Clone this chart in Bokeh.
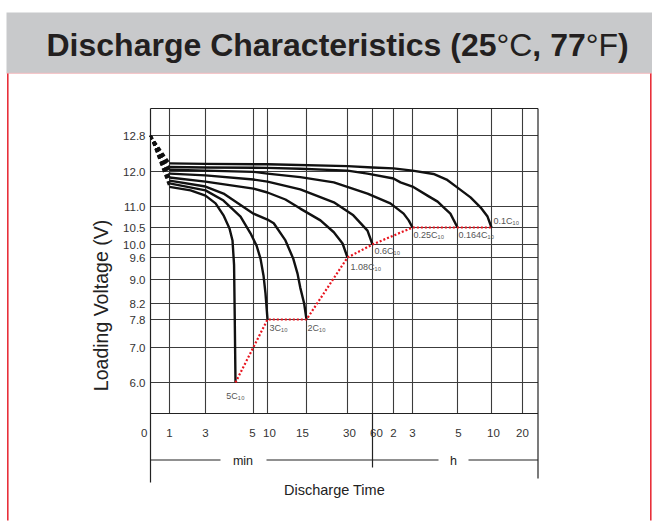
import numpy as np
from bokeh.plotting import figure
from bokeh.models import Range1d
from bokeh.core.properties import value
from bokeh.embed import file_html
from bokeh.resources import INLINE

# ---------------- texts ----------------
TITLE_PARTS = ["Discharge Characteristics (25", "°C", ", 77", "°F", ")"]
TITLE_BOLD = [True, False, True, False, True]
Y_LABEL = "Loading Voltage (V)"
X_LABEL = "Discharge Time"
UNIT_LABELS = ["min", "h"]

# ---------------- axes ----------------
X_TICK_LABELS = ["0", "1", "3", "5", "10", "15", "30", "60", "2", "3", "5", "10", "20"]
X_TICK_MINUTES = [0, 1, 3, 5, 10, 15, 30, 60, 120, 180, 300, 600, 1200]
Y_TICK_LABELS = ["12.8", "12.0", "11.0", "10.5", "10.0", "9.6", "9.0", "8.2", "7.8", "7.0", "6.0"]
Y_TICK_VOLTS = [12.8, 12.0, 11.0, 10.5, 10.0, 9.6, 9.0, 8.2, 7.8, 7.0, 6.0]

# ---------------- series (time in minutes, voltage in V) ----------------
RATE_LABELS = ["0.1C₁₀", "0.164C₁₀", "0.25C₁₀", "0.6C₁₀", "1.08C₁₀", "2C₁₀", "3C₁₀", "5C₁₀"]
INITIAL_VOLT = 12.8

t_01 = [1, 3, 10, 30, 60, 120, 180, 236, 271, 300, 415, 503, 565, 600]
v_01 = [12.18, 12.17, 12.16, 12.12, 12.09, 12.07, 12.02, 11.93, 11.77, 11.54, 11.26, 10.98, 10.76, 10.5]

t_0164 = [1, 3, 10, 14.2, 30, 54, 120, 142, 180, 220, 247, 263, 281, 300]
v_0164 = [12.10, 12.09, 12.08, 12.06, 12.02, 11.94, 11.80, 11.69, 11.57, 11.31, 11.14, 10.98, 10.83, 10.5]

t_025 = [1, 3, 5, 10, 14.2, 25, 54, 111, 152, 168, 180]
v_025 = [12.04, 12.02, 11.99, 11.94, 11.84, 11.69, 11.37, 11.09, 10.83, 10.67, 10.5]

t_06 = [1, 3, 5, 10, 14.2, 25, 37, 54, 60]
v_06 = [11.94, 11.89, 11.77, 11.71, 11.49, 11.12, 10.79, 10.41, 10.0]

t_108 = [1, 3, 5, 10, 12.3, 14.2, 20.1, 25, 28.2, 30]
v_108 = [11.83, 11.71, 11.51, 11.40, 11.20, 10.95, 10.67, 10.36, 10.03, 9.6]

t_2 = [1, 3, 3.75, 5, 10, 10.8, 12.3, 13.3, 13.85, 14.2, 14.7, 15]
v_2 = [11.74, 11.57, 11.37, 10.83, 10.69, 10.6, 10.12, 9.57, 9.16, 8.73, 8.2, 7.8]

t_3 = [1, 3, 3.75, 4.46, 4.875, 6.07, 7.5, 8.57, 9.29, 10]
v_3 = [11.66, 11.46, 11.17, 10.76, 10.33, 9.97, 9.57, 9.11, 8.53, 7.8]

t_5 = [1, 2.17, 3, 3.42, 3.75, 4.0, 4.125, 4.19, 4.22, 4.25]
v_5 = [11.56, 11.46, 11.31, 11.09, 10.79, 10.47, 10.12, 9.4, 7.77, 6.0]

CURVES_T = [t_01, t_0164, t_025, t_06, t_108, t_2, t_3, t_5]
CURVES_V = [v_01, v_0164, v_025, v_06, v_108, v_2, v_3, v_5]

END_MINUTES = [4.25, 10, 15, 30, 60, 180, 300, 600]
END_VOLTS = [6.0, 7.8, 7.8, 9.6, 10.0, 10.5, 10.5, 10.5]
END_LABELS = ["5C₁₀", "3C₁₀", "2C₁₀", "1.08C₁₀", "0.6C₁₀", "0.25C₁₀", "0.164C₁₀", "0.1C₁₀"]

# ---------------- layout (page pixels) ----------------
W, H = 652, 522
X_TICK_PX = [150, 169, 205, 253, 267, 306, 347, 372, 393, 412, 457, 491, 522]
X_RIGHT = 537.5
Y_TICK_PX = [135, 171, 206, 227, 244, 257, 279, 303, 319, 347, 382]
Y_TOP, Y_BOTTOM = 108, 413
X_LABEL_NUDGE = [0, 0, 0, -1, 2, -4, 2, 4, 0, 0, 1, 2, 0]
END_LABEL_OFF = [(0, 8, "center", "top"), (2, 3, "left", "top"), (1, 3, "left", "top"),
                 (3, 4, "left", "top"), (2, 1, "left", "top"), (1, 2, "left", "top"),
                 (1, 2, "left", "top"), (2, -2, "left", "bottom")]

FONT = value("Liberation Sans")
vy_sorted = np.array(Y_TICK_VOLTS[::-1])
py_sorted = np.array(Y_TICK_PX[::-1], dtype=float)


def xmap(t):
    return np.interp(np.asarray(t, dtype=float), X_TICK_MINUTES, X_TICK_PX)


def ymap(v):
    return np.interp(np.asarray(v, dtype=float), vy_sorted, py_sorted)


p = figure(width=W, height=H, x_range=Range1d(0, W), y_range=Range1d(H, 0),
           output_backend="svg", toolbar_location=None,
           x_axis_location=None, y_axis_location=None, min_border=0,
           outline_line_color=None, background_fill_color="white",
           border_fill_color="white")
p.xgrid.visible = False
p.ygrid.visible = False

# header band
p.quad(left=[6], right=[W], top=[12], bottom=[72.5], fill_color="#c8c9cb", line_color=None)
p.segment(x0=[6], x1=[W], y0=[72.8], y1=[72.8], line_color="#f2b9bd", line_width=1)
# red side borders
p.segment(x0=[7.3, 650.3], x1=[7.3, 650.3], y0=[73, 73], y1=[520, 520],
          line_color="#e8303a", line_width=1.6)

# title
BOLD_W = {"D": 722, "i": 278, "s": 556, "c": 556, "h": 611, "a": 556, "r": 389, "g": 611,
          "e": 556, " ": 278, "C": 722, "t": 333, "(": 333, "2": 556, "5": 556, ",": 278,
          "7": 556, ")": 333, "°": 400, "F": 611}
REG_W = {"°": 400, "C": 722, "F": 611}
TS = 32
xcur = 46.0
for part, bold in zip(TITLE_PARTS, TITLE_BOLD):
    p.text(x=[xcur], y=[44], text=[part], text_font=FONT, text_font_size=f"{TS}px",
           text_font_style="bold" if bold else "normal", text_color="#231f20",
           text_align="left", text_baseline="middle")
    table = BOLD_W if bold else REG_W
    xcur += sum(table[ch] for ch in part) * TS / 1000.0

GRID = "#3c3c3c"
# grid
p.segment(x0=X_TICK_PX[1:], x1=X_TICK_PX[1:], y0=[Y_TOP] * 12, y1=[Y_BOTTOM] * 12,
          line_color=GRID, line_width=1.1)
p.segment(x0=[150] * len(Y_TICK_PX), x1=[X_RIGHT] * len(Y_TICK_PX), y0=Y_TICK_PX, y1=Y_TICK_PX,
          line_color=GRID, line_width=1.1)
# frame + lower rulers
p.segment(x0=[150, 150, 150, X_RIGHT, 372], x1=[X_RIGHT, X_RIGHT, 150, X_RIGHT, 372],
          y0=[Y_TOP, Y_BOTTOM, Y_TOP, Y_TOP, Y_BOTTOM], y1=[Y_TOP, Y_BOTTOM, 482, 478, 467],
          line_color="#222222", line_width=1.2)
p.segment(x0=[150, 266, 468], x1=[220, 438, X_RIGHT], y0=[459.5] * 3, y1=[459.5] * 3,
          line_color="#222222", line_width=1.1)

# tick labels
xl = [xp + n for xp, n in zip(X_TICK_PX, X_LABEL_NUDGE)]
p.text(x=[147], y=[432], text=[X_TICK_LABELS[0]], text_font=FONT, text_font_size="11.5px",
       text_color="#333333", text_align="right", text_baseline="middle")
p.text(x=xl[1:], y=[432] * 12, text=X_TICK_LABELS[1:], text_font=FONT, text_font_size="11.5px",
       text_color="#333333", text_align="center", text_baseline="middle")
p.text(x=[145] * len(Y_TICK_PX), y=Y_TICK_PX, text=Y_TICK_LABELS, text_font=FONT,
       text_font_size="11.5px", text_color="#333333", text_align="right", text_baseline="middle")
p.text(x=[242.5, 453], y=[460, 460], text=UNIT_LABELS, text_font=FONT, text_font_size="12.5px",
       text_color="#222222", text_align="center", text_baseline="middle")
p.text(x=[334], y=[489], text=[X_LABEL], text_font=FONT, text_font_size="14.5px",
       text_color="#222222", text_align="center", text_baseline="middle")
p.text(x=[100], y=[305], text=[Y_LABEL], text_font=FONT, text_font_size="19.5px",
       text_color="#222222", text_align="center", text_baseline="middle", angle=np.pi / 2)

# initial drop (dashed) and discharge curves
for ts, vs in zip(CURVES_T, CURVES_V):
    p.line(x=xmap([0, ts[0]]), y=ymap([INITIAL_VOLT, vs[0]]), line_color="#111111",
           line_width=2.2, line_dash="4 3")
for ts, vs in zip(CURVES_T, CURVES_V):
    p.line(x=xmap(ts), y=ymap(vs), line_color="#111111", line_width=2.4, line_join="round")

# end-of-discharge locus
p.line(x=xmap(END_MINUTES), y=ymap(END_VOLTS), line_color="#e8141e", line_width=2.2,
       line_dash="2 2")

ex = xmap(END_MINUTES)
ey = ymap(END_VOLTS)
for xx, yy, lab, (dx, dy, al, bl) in zip(ex, ey, END_LABELS, END_LABEL_OFF):
    p.text(x=[xx], y=[yy], text=[lab], x_offset=dx, y_offset=dy, text_font=FONT,
           text_font_size="9px", text_color="#555555", text_align=al, text_baseline=bl)

open("out.html", "w").write(file_html(p, INLINE))
